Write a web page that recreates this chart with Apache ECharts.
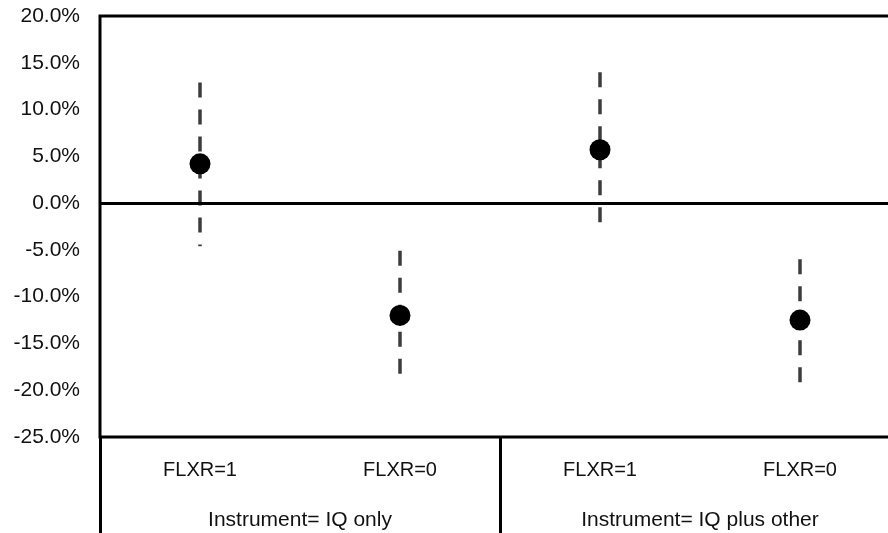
<!DOCTYPE html>
<html>
<head>
<meta charset="utf-8">
<script src="https://cdn.jsdelivr.net/npm/echarts@6/dist/echarts.min.js"></script>
<style>
  html, body { margin: 0; padding: 0; background: #fff; }
  #chart { width: 888px; height: 533px; }
</style>
</head>
<body>
<div id="chart"></div>
<script>
// Point estimates and interval bounds, in percent
const categories = ['FLXR=1', 'FLXR=0', 'FLXR=1', 'FLXR=0'];
const groups = ['Instrument= IQ only', 'Instrument= IQ plus other'];
const estimates = [4.2, -12.0, 5.7, -12.5];
const upper = [12.9, -5.1, 14.0, -6.0];
const lower = [-4.6, -19.2, -2.7, -19.2];
const yTicks = { min: -25, max: 20, step: 5 };

const FONT = '"Liberation Sans", Arial, sans-serif';

const chart = echarts.init(document.getElementById('chart'), null, { renderer: 'canvas' });

const intervalData = categories.map((c, i) => [i, lower[i], upper[i]]);

chart.setOption({
  animation: false,
  backgroundColor: '#ffffff',
  grid: {
    left: 100, top: 16, width: 800, height: 421,
    outerBoundsMode: 'none', containLabel: false,
    show: true, borderColor: '#000', borderWidth: 3, backgroundColor: 'transparent'
  },
  xAxis: [
    {
      type: 'category', data: categories, position: 'bottom', boundaryGap: true,
      axisLine: { show: false }, axisTick: { show: false }, splitLine: { show: false },
      axisLabel: { color: '#111', fontFamily: FONT, fontSize: 20, margin: 23 }
    },
    {
      type: 'category', data: groups, position: 'bottom', boundaryGap: true,
      axisLine: { show: false },
      axisTick: { show: true, length: 98, interval: 0, lineStyle: { color: '#000', width: 3 } },
      splitLine: { show: false },
      axisLabel: { color: '#111', fontFamily: FONT, fontSize: 21, margin: 73 }
    }
  ],
  yAxis: {
    type: 'value', min: yTicks.min, max: yTicks.max, interval: yTicks.step,
    axisLine: { show: false }, axisTick: { show: false }, splitLine: { show: false },
    axisLabel: {
      color: '#111', fontFamily: FONT, fontSize: 21, margin: 20,
      formatter: v => v.toFixed(1) + '%'
    }
  },
  series: [
    {
      type: 'custom',
      xAxisIndex: 0,
      data: intervalData,
      z: 2,
      renderItem: (params, api) => {
        const top = api.coord([api.value(0), api.value(2)]);
        const bot = api.coord([api.value(0), api.value(1)]);
        return {
          type: 'line',
          shape: { x1: top[0], y1: top[1], x2: bot[0], y2: bot[1] },
          style: { stroke: '#3c3c3c', lineWidth: 3.5, lineDash: [15, 12] }
        };
      }
    },
    {
      type: 'scatter',
      xAxisIndex: 0,
      data: estimates.map((v, i) => [i, v]),
      symbol: 'circle', symbolSize: 21,
      itemStyle: { color: '#000', opacity: 1 },
      z: 3,
      markLine: {
        silent: true, symbol: 'none', label: { show: false },
        lineStyle: { color: '#000', width: 3, type: 'solid', opacity: 1 },
        data: [{ yAxis: 0 }]
      }
    }
  ]
});
</script>
</body>
</html>
